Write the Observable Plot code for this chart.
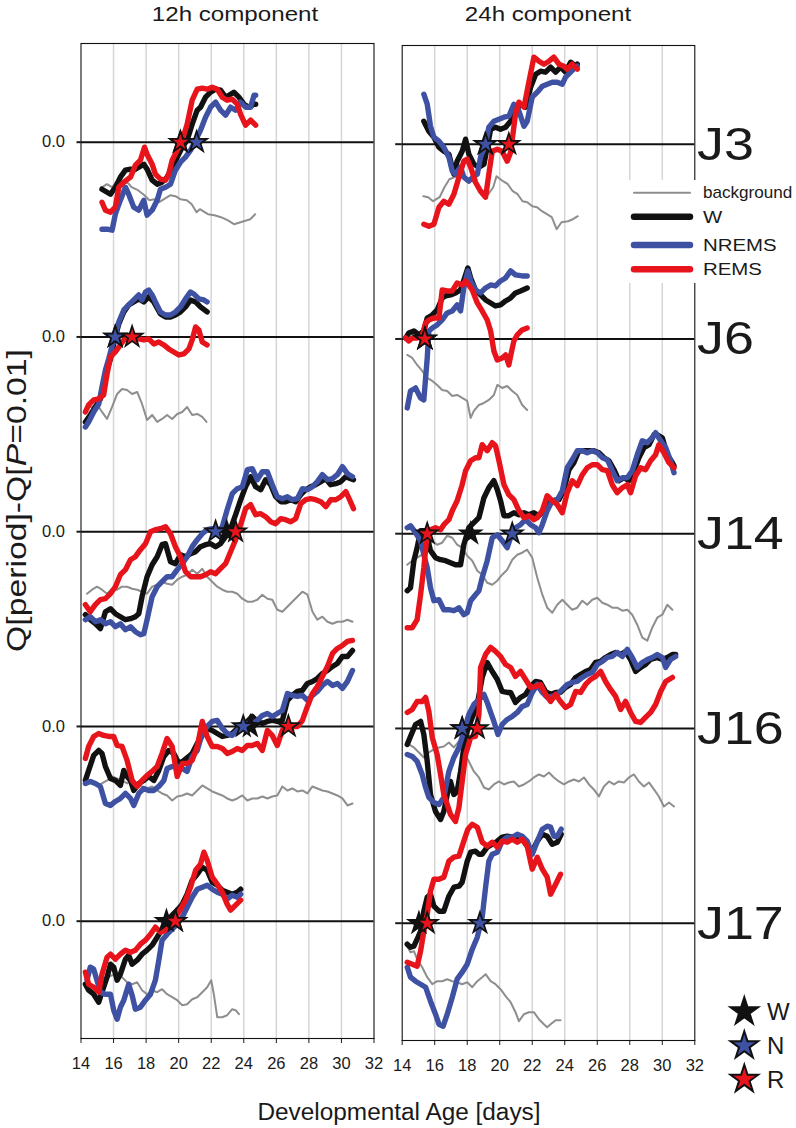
<!DOCTYPE html>
<html><head><meta charset="utf-8">
<script src="https://cdn.jsdelivr.net/npm/d3@7"></script>
<script src="https://cdn.jsdelivr.net/npm/@observablehq/plot@0.6"></script>
<style>
html,body{margin:0;padding:0;background:#fff;}
#wrap{position:relative;width:796px;height:1128px;overflow:hidden;font-family:"Liberation Sans",Arial,sans-serif;background:#fff;}
#wrap > svg{position:absolute;}
#wrap svg [aria-label$="tick label"], #wrap svg [aria-label$="tick label"] text{font-size:16.5px !important;}
</style></head><body><div id="wrap"></div>
<script>
// ---------- categories / ticks ----------
const xTicks = [14,16,18,20,22,24,26,28,30,32];
const rowNames = ["J3","J6","J14","J16","J17"];
const seriesNames = ["background","W","NREMS","REMS"];
const seriesColors = ["#8e8e8e","#111111","#3f51a3","#e8141c"];
const starLegend = ["W","N","R"];
const componentTitles = ["12h component","24h component"];

// ---------- 12h component (day, Q-difference) ----------
const d12_J3_bg = [15.3,15.6,15.9,16.2,16.6,16.9,17.1,17.5,17.9,18.2,18.5,18.8,19.1,19.5,19.8,20.1,20.5,20.8,21.1,21.3,21.8,22.2,22.6,23.0,23.4,23.8,24.2,24.4,24.7];
const q12_J3_bg = [-45,-42,-45,-40,-40,-41,-45,-48,-53,-58,-57,-60,-57,-53,-54,-57,-58,-62,-70,-67,-72,-73,-75,-78,-82,-80,-78,-77,-72];
const d12_J3_W = [15.29,15.81,16.11,16.42,16.73,17.04,17.24,17.55,17.86,18.06,18.37,18.68,18.98,19.29,19.6,19.91,20.22,20.52,20.83,21.14,21.34,21.65,21.96,22.27,22.57,22.88,23.19,23.39,23.7,24.01,24.32,24.63,24.73];
const q12_J3_W = [-47,-52,-45,-35,-28,-27,-28,-25,-22,-27,-38,-42,-40,-35,-25,-15,-5,2,18,32,35,45,50,53,52,45,48,50,45,38,35,38,38];
const d12_J3_N = [15.29,15.6,15.91,16.11,16.42,16.73,16.93,17.24,17.55,17.86,18.06,18.37,18.68,18.88,19.19,19.5,19.8,20.11,20.42,20.73,21.04,21.34,21.65,21.96,22.27,22.57,22.88,23.19,23.5,23.8,24.11,24.42,24.63,24.73];
const q12_J3_N = [-87,-87,-88,-72,-58,-45,-52,-65,-68,-58,-73,-68,-58,-47,-45,-42,-28,-20,-15,-8,2,12,25,35,40,32,27,35,32,40,35,35,47,47];
const d12_J3_R = [15.29,15.5,15.81,16.11,16.32,16.63,17.04,17.34,17.65,17.9,18.06,18.37,18.57,18.88,19.19,19.39,19.6,19.91,20.22,20.52,20.83,21.14,21.45,21.75,22.06,22.37,22.68,22.98,23.29,23.6,23.8,24.11,24.42,24.73];
const q12_J3_R = [-60,-68,-70,-65,-45,-40,-35,-23,-18,-5,-12,-22,-32,-37,-38,-32,-18,-8,2,18,42,53,54,53,55,53,45,42,43,38,28,17,22,17];

const d12_J6_bg = [14.37,14.68,14.98,15.29,15.6,15.91,16.22,16.52,16.83,17.14,17.45,17.75,18.06,18.37,18.68,18.98,19.29,19.6,19.91,20.22,20.52,20.83,21.14,21.45,21.71];
const q12_J6_bg = [-70,-70,-67,-75,-82,-70,-57,-52,-53,-57,-55,-67,-83,-78,-85,-82,-78,-82,-77,-75,-70,-78,-77,-80,-85];
const d12_J6_W = [14.27,14.57,14.88,15.19,15.39,15.6,15.81,16.01,16.32,16.63,16.93,17.24,17.55,17.86,18.16,18.47,18.88,19.19,19.5,19.8,20.11,20.42,20.73,21.04,21.34,21.75];
const q12_J6_W = [-85,-78,-70,-62,-50,-33,-22,-7,13,25,32,35,38,35,40,35,23,20,20,22,25,30,37,35,30,25];
const d12_J6_N = [14.27,14.47,14.78,15.09,15.29,15.5,15.7,16.01,16.32,16.63,16.93,17.24,17.55,17.75,17.96,18.16,18.37,18.57,18.88,19.19,19.5,19.8,20.11,20.42,20.73,20.93,21.24,21.55,21.75];
const q12_J6_N = [-90,-85,-75,-67,-50,-33,-22,-3,15,27,32,37,42,37,45,47,42,35,25,22,22,25,30,38,45,43,38,37,35];
const d12_J6_R = [14.27,14.47,14.78,15.09,15.39,15.6,15.81,16.11,16.42,16.63,16.93,17.24,17.55,17.86,18.16,18.47,18.78,19.09,19.39,19.7,20.01,20.32,20.63,20.83,21.04,21.24,21.45,21.75];
const q12_J6_R = [-75,-68,-63,-62,-58,-37,-20,-15,-8,-3,0,0,-2,-3,-2,-7,-5,-8,-12,-15,-18,-17,-12,-3,10,7,-5,-8];

const d12_J14_bg = [14.37,14.68,14.98,15.29,15.6,15.91,16.22,16.52,16.83,17.14,17.45,17.75,18.06,18.37,18.68,18.98,19.29,19.6,19.91,20.22,20.52,20.83,21.14,21.45,21.75,22.06,22.37,22.68,22.98,23.29,23.6,23.91,24.22,24.52,24.83,25.14,25.45,25.75,26.06,26.37,26.68,26.98,27.29,27.6,27.91,28.22,28.52,28.83,29.14,29.45,29.75,30.06,30.37,30.68];
const q12_J14_bg = [-62,-58,-55,-58,-62,-57,-58,-55,-55,-57,-58,-60,-62,-55,-53,-50,-52,-53,-48,-45,-43,-38,-42,-37,-45,-50,-55,-58,-60,-60,-62,-67,-70,-70,-68,-63,-67,-68,-78,-80,-75,-70,-65,-60,-63,-80,-88,-85,-90,-92,-90,-90,-88,-90];
const d12_J14_W = [14.27,14.57,14.88,15.19,15.5,15.81,16.11,16.42,16.73,17.04,17.34,17.55,17.75,18.06,18.37,18.68,18.98,19.19,19.5,19.8,20.11,20.42,20.73,21.04,21.34,21.65,21.96,22.27,22.57,22.88,23.19,23.5,23.81,24.11,24.42,24.73,25.04,25.34,25.65,25.96,26.27,26.57,26.88,27.19,27.5,27.81,28.11,28.42,28.73,29.04,29.34,29.65,29.96,30.27,30.57,30.74];
const q12_J14_W = [-83,-88,-92,-97,-80,-77,-82,-85,-88,-87,-85,-82,-65,-45,-33,-25,-13,-12,-30,-32,-23,-25,-22,-20,-15,-13,-12,-15,-12,-5,3,17,32,45,55,45,42,52,47,35,30,30,32,30,37,42,45,47,50,53,47,48,50,55,53,52];
const d12_J14_N = [14.27,14.57,14.88,15.19,15.5,15.81,16.11,16.42,16.73,17.04,17.34,17.65,17.86,18.06,18.37,18.68,18.98,19.29,19.6,19.91,20.22,20.52,20.83,21.14,21.45,21.75,22.06,22.37,22.68,22.98,23.29,23.6,23.91,24.22,24.52,24.83,25.14,25.45,25.75,26.06,26.37,26.68,26.98,27.29,27.6,27.91,28.22,28.52,28.83,29.14,29.45,29.75,30.06,30.37,30.68];
const q12_J14_N = [-88,-85,-90,-88,-92,-90,-95,-92,-98,-95,-100,-103,-102,-88,-65,-55,-50,-45,-45,-38,-32,-25,-15,-8,-2,2,3,0,5,22,38,43,45,62,63,52,60,60,47,35,33,35,32,33,43,42,45,50,57,52,53,57,65,58,55];
const d12_J14_R = [14.27,14.57,14.88,15.19,15.5,15.81,16.11,16.42,16.73,17.04,17.34,17.65,17.96,18.27,18.57,18.88,19.19,19.5,19.8,20.11,20.42,20.73,21.04,21.34,21.65,21.96,22.27,22.57,22.88,23.19,23.5,23.81,24.11,24.42,24.73,25.04,25.34,25.65,25.96,26.27,26.57,26.88,27.19,27.5,27.81,28.11,28.42,28.73,29.04,29.34,29.65,29.96,30.27,30.47,30.74];
const q12_J14_R = [-73,-80,-73,-68,-67,-62,-55,-43,-38,-28,-25,-18,-12,0,2,3,5,-2,-15,-25,-40,-45,-45,-45,-43,-40,-42,-37,-32,-20,-8,7,23,27,17,18,15,10,8,13,12,10,13,28,32,33,32,30,25,32,32,35,40,33,23];

const d12_J16_bg = [14.37,14.68,14.98,15.29,15.6,15.91,16.22,16.52,16.83,17.14,17.45,17.75,18.06,18.37,18.68,18.98,19.29,19.6,19.91,20.22,20.52,20.83,21.14,21.45,21.75,22.06,22.37,22.68,22.98,23.29,23.6,23.91,24.22,24.52,24.83,25.14,25.45,25.75,26.06,26.37,26.68,26.98,27.29,27.6,27.91,28.22,28.52,28.83,29.14,29.45,29.75,30.06,30.37,30.68];
const q12_J16_bg = [-57,-54,-59,-57,-54,-50,-52,-54,-57,-52,-59,-60,-62,-60,-64,-67,-69,-74,-70,-69,-67,-69,-64,-59,-62,-65,-67,-69,-72,-74,-72,-69,-74,-72,-72,-70,-72,-70,-69,-60,-64,-62,-65,-64,-67,-60,-62,-64,-65,-67,-69,-72,-79,-77];
const d12_J16_W = [14.27,14.47,14.78,15.09,15.29,15.5,15.81,16.11,16.42,16.63,16.83,17.04,17.24,17.55,17.86,18.16,18.47,18.78,19.09,19.39,19.7,20.01,20.32,20.63,20.83,21.14,21.45,21.75,22.06,22.37,22.68,22.98,23.29,23.6,23.91,24.22,24.52,24.83,25.14,25.45,25.75,26.06,26.37,26.68,26.98,27.29,27.6,27.91,28.22,28.52,28.83,29.14,29.45,29.75,30.06,30.37,30.68];
const q12_J16_W = [-54,-44,-29,-24,-27,-40,-52,-54,-59,-44,-50,-54,-64,-57,-54,-50,-54,-44,-30,-24,-27,-37,-34,-30,-27,-17,-9,-2,-4,-7,-10,-9,-7,-2,0,5,10,5,3,5,6,5,6,26,31,35,36,43,45,48,53,56,60,63,70,70,76];
const d12_J16_N = [14.27,14.57,14.88,15.19,15.5,15.81,16.11,16.42,16.73,17.04,17.24,17.55,17.86,18.16,18.47,18.78,19.09,19.29,19.6,19.91,20.22,20.52,20.83,21.14,21.45,21.75,22.06,22.37,22.68,22.98,23.29,23.6,23.91,24.22,24.52,24.83,25.14,25.45,25.75,26.06,26.37,26.68,26.98,27.29,27.6,27.91,28.22,28.52,28.83,29.14,29.45,29.75,30.06,30.37,30.68];
const q12_J16_N = [-57,-55,-57,-60,-77,-79,-75,-72,-67,-72,-79,-67,-62,-64,-64,-60,-54,-42,-40,-40,-42,-45,-30,-24,-7,0,5,6,-2,-7,-9,-4,0,3,3,6,11,13,10,13,16,33,31,30,31,26,31,35,41,45,41,43,38,45,56];
const d12_J16_R = [14.27,14.47,14.78,15.09,15.39,15.7,16.01,16.22,16.52,16.83,17.14,17.45,17.75,18.06,18.37,18.68,18.98,19.29,19.6,19.91,20.22,20.52,20.83,21.14,21.45,21.75,22.06,22.37,22.68,22.98,23.29,23.6,23.91,24.22,24.52,24.83,25.14,25.45,25.75,26.06,26.37,26.68,26.98,27.29,27.6,27.91,28.22,28.52,28.83,29.14,29.45,29.75,30.06,30.37,30.68];
const q12_J16_R = [-32,-20,-10,-7,-9,-10,-10,-19,-20,-34,-54,-60,-54,-49,-45,-40,-27,-12,-20,-50,-37,-37,-34,-20,5,-10,-20,-20,-22,-27,-25,-22,-24,-19,-19,-17,-24,-4,-9,-19,-4,3,0,0,6,20,33,40,50,60,73,78,81,85,86];

const d12_J17_bg = [14.37,14.68,14.98,15.29,15.6,15.91,16.22,16.52,16.83,17.14,17.45,17.75,18.06,18.37,18.68,18.98,19.29,19.6,19.91,20.22,20.52,20.83,21.14,21.45,21.75,22.0,22.16,22.37,22.68,22.98,23.29,23.5,23.7];
const q12_J17_bg = [-59,-73,-66,-58,-56,-54,-54,-56,-61,-63,-61,-69,-73,-69,-71,-68,-73,-76,-79,-84,-83,-78,-76,-71,-66,-59,-73,-96,-96,-94,-88,-89,-93];
const d12_J17_W = [14.27,14.47,14.78,15.09,15.29,15.6,15.81,16.01,16.22,16.42,16.73,16.93,17.14,17.45,17.75,18.06,18.37,18.68,18.98,19.29,19.6,19.91,20.22,20.52,20.83,21.14,21.45,21.75,22.06,22.37,22.68,22.98,23.29,23.6,23.81];
const q12_J17_W = [-63,-69,-73,-81,-71,-56,-43,-46,-59,-53,-38,-34,-43,-39,-33,-29,-24,-16,-8,-1,6,11,17,27,41,47,54,51,39,36,31,29,27,29,32];
const d12_J17_N = [14.37,14.57,14.78,14.98,15.19,15.5,15.81,16.01,16.22,16.42,16.63,16.93,17.14,17.34,17.65,17.96,18.27,18.57,18.78,18.98,19.29,19.6,19.91,20.22,20.52,20.83,21.14,21.45,21.75,22.06,22.37,22.68,22.98,23.29,23.6,23.81];
const q12_J17_N = [-59,-46,-48,-59,-71,-73,-73,-89,-98,-86,-79,-63,-74,-88,-86,-79,-73,-59,-39,-19,-13,-8,-3,4,14,24,32,34,36,32,29,27,22,26,24,27];
const d12_J17_R = [14.27,14.47,14.78,15.09,15.29,15.6,15.81,16.11,16.42,16.73,17.04,17.34,17.65,17.96,18.27,18.57,18.88,19.19,19.5,19.8,20.11,20.42,20.73,21.04,21.34,21.55,21.75,22.06,22.37,22.68,22.98,23.19,23.5,23.81];
const q12_J17_R = [-51,-63,-66,-71,-53,-36,-33,-38,-33,-29,-31,-29,-23,-19,-13,-6,-11,-9,-1,4,12,21,34,51,57,69,61,44,37,29,17,11,16,21];

// ---------- 24h component (day, Q-difference) ----------
const d24_J3_bg = [15.3,15.6,15.9,16.3,16.6,16.9,17.2,17.5,17.8,18.1,18.4,18.7,19.0,19.3,19.6,19.8,20.2,20.5,20.8,21.1,21.4,21.7,22.0,22.3,22.6,22.9,23.2,23.5,23.8,24.2,24.5,24.8];
const q24_J3_bg = [-52,-53,-57,-53,-43,-35,-33,-32,-33,-35,-38,-43,-47,-50,-43,-32,-37,-40,-47,-50,-57,-58,-62,-63,-67,-70,-73,-85,-78,-77,-75,-72];
const d24_J3_W = [15.33,15.64,15.95,16.26,16.56,16.87,17.18,17.38,17.69,17.9,18.1,18.41,18.72,19.03,19.23,19.44,19.74,20.05,20.36,20.67,20.97,21.28,21.59,21.9,22.21,22.51,22.82,23.13,23.44,23.74,24.05,24.36,24.67,24.77];
const q24_J3_W = [23,13,7,-3,-7,-10,-30,-17,-7,5,-10,-20,-23,-20,-3,15,17,15,17,23,33,40,37,57,70,73,72,77,72,77,72,82,78,80];
const d24_J3_N = [15.33,15.54,15.74,15.95,16.26,16.56,16.87,17.08,17.28,17.59,17.79,18.1,18.41,18.62,18.82,19.13,19.33,19.64,19.95,20.26,20.56,20.87,21.18,21.49,21.69,22.0,22.31,22.62,22.92,23.23,23.54,23.85,24.05,24.36,24.67,24.77];
const q24_J3_N = [50,40,18,7,3,-3,-13,-27,-30,-23,-33,-37,-32,-30,-13,0,17,23,25,27,28,40,33,18,23,47,52,58,60,62,62,60,67,72,77,78];
const d24_J3_R = [15.33,15.64,15.95,16.26,16.56,16.87,17.18,17.49,17.79,18.0,18.21,18.51,18.82,19.13,19.33,19.54,19.85,20.15,20.46,20.67,20.97,21.18,21.49,21.79,22.1,22.41,22.72,23.03,23.33,23.64,23.95,24.15,24.46,24.77];
const q24_J3_R = [-80,-82,-80,-63,-57,-60,-50,-33,-17,-15,-23,-38,-47,-53,-30,-7,-5,-7,-17,-8,30,42,37,62,87,83,80,83,87,80,78,75,80,75];

const d24_J6_bg = [14.31,14.62,14.92,15.23,15.54,15.85,16.15,16.46,16.77,17.08,17.38,17.69,18.0,18.21,18.41,18.72,19.03,19.33,19.64,19.85,20.15,20.46,20.77,21.08,21.38,21.69];
const q24_J6_bg = [-16,-19,-26,-32,-39,-42,-46,-51,-52,-57,-56,-59,-62,-79,-72,-66,-64,-61,-56,-46,-49,-47,-52,-56,-66,-71];
const d24_J6_W = [14.21,14.41,14.72,15.03,15.33,15.54,15.85,16.15,16.46,16.67,16.97,17.28,17.59,17.84,18.04,18.21,18.51,18.82,19.13,19.44,19.74,20.05,20.36,20.67,20.97,21.28,21.69];
const q24_J6_W = [1,6,8,4,8,21,24,29,41,43,44,46,49,61,71,61,49,44,39,36,33,34,38,41,46,48,51];
const d24_J6_N = [14.31,14.51,14.82,15.13,15.33,15.54,15.64,15.85,16.15,16.46,16.77,17.08,17.38,17.59,17.79,18.04,18.21,18.51,18.82,19.13,19.44,19.74,20.05,20.36,20.67,20.97,21.38,21.69];
const q24_J6_N = [-69,-52,-49,-59,-61,-19,8,11,14,19,26,28,34,28,51,68,58,49,46,51,54,53,58,61,68,64,63,63];
const d24_J6_R = [14.21,14.41,14.62,14.92,15.23,15.44,15.64,15.95,16.26,16.46,16.77,17.08,17.38,17.69,17.9,18.1,18.31,18.62,18.92,19.23,19.44,19.64,19.85,20.15,20.36,20.56,20.67,20.87,21.08,21.38,21.69];
const q24_J6_R = [1,-2,1,1,3,16,19,21,21,49,48,48,56,54,58,54,49,36,28,19,8,-12,-21,-19,-16,-26,-17,-2,4,9,11];

const d24_J14_bg = [14.31,14.62,14.92,15.23,15.54,15.85,16.15,16.46,16.77,17.08,17.38,17.69,18.0,18.31,18.62,18.92,19.23,19.54,19.85,20.15,20.46,20.77,21.08,21.38,21.69,22.0,22.31,22.62,22.92,23.23,23.54,23.85,24.15,24.46,24.77,25.08,25.38,25.69,26.0,26.31,26.62,26.92,27.23,27.54,27.85,28.15,28.46,28.77,29.08,29.38,29.69,30.0,30.31,30.62];
const q24_J14_bg = [-31,-27,-24,-21,-14,-7,-11,-9,-2,-4,-11,-14,-22,-27,-37,-41,-49,-51,-47,-41,-36,-26,-21,-19,-16,-24,-44,-61,-74,-79,-71,-66,-71,-76,-74,-67,-71,-66,-64,-69,-71,-74,-74,-77,-76,-81,-91,-104,-107,-94,-84,-81,-71,-76];
const d24_J14_W = [14.31,14.51,14.72,14.92,15.13,15.44,15.74,16.05,16.36,16.67,16.97,17.28,17.59,17.79,18.1,18.41,18.72,19.03,19.33,19.64,19.85,20.05,20.26,20.56,20.87,21.18,21.49,21.79,22.1,22.41,22.72,23.03,23.33,23.64,23.95,24.26,24.56,24.87,25.18,25.49,25.79,26.1,26.41,26.72,27.03,27.33,27.64,27.95,28.26,28.56,28.87,29.18,29.49,29.69,30.0,30.31,30.62,30.72];
const q24_J14_W = [-57,-54,-27,-14,3,3,-17,-24,-26,-27,-29,-31,-31,-11,6,11,16,36,46,53,44,33,18,18,21,19,21,19,21,18,23,31,33,34,44,64,71,83,83,83,83,81,76,73,64,53,56,53,63,76,86,89,99,99,96,79,71,68];
const d24_J14_N = [14.31,14.51,14.82,15.13,15.33,15.54,15.74,15.95,16.26,16.56,16.87,17.18,17.49,17.79,18.0,18.21,18.51,18.72,18.92,19.23,19.54,19.85,20.15,20.46,20.67,20.97,21.28,21.59,21.9,22.21,22.41,22.62,22.92,23.23,23.54,23.85,24.15,24.46,24.77,25.08,25.38,25.69,26.0,26.31,26.62,26.92,27.23,27.54,27.85,28.15,28.46,28.77,29.08,29.38,29.59,29.9,30.21,30.51,30.72];
const q24_J14_N = [6,8,1,-7,-21,-34,-54,-67,-66,-76,-76,-77,-74,-81,-79,-67,-61,-57,-44,-27,-4,-1,-7,-14,-4,6,9,14,9,6,1,9,23,33,34,43,66,74,83,83,81,83,81,76,74,63,53,56,56,63,79,93,91,96,101,93,86,73,61];
const d24_J14_R = [14.31,14.62,14.92,15.13,15.33,15.54,15.74,16.05,16.36,16.56,16.87,17.08,17.38,17.69,17.9,18.21,18.51,18.72,18.92,19.23,19.54,19.74,19.95,20.26,20.56,20.87,21.18,21.49,21.79,22.1,22.31,22.62,22.92,23.23,23.54,23.85,24.15,24.46,24.77,25.08,25.38,25.69,26.0,26.31,26.62,26.92,27.23,27.54,27.85,28.05,28.36,28.67,28.97,29.28,29.59,29.79,30.1,30.41,30.72];
const q24_J14_R = [-94,-94,-86,-61,-34,1,4,6,4,9,14,23,33,49,63,73,76,76,89,83,91,88,73,49,39,34,23,16,18,14,16,23,38,33,29,21,41,53,48,59,66,69,69,64,63,49,41,46,49,41,58,66,64,73,79,89,81,71,66];

const d24_J16_bg = [14.41,14.72,15.03,15.33,15.64,15.95,16.26,16.56,16.87,17.18,17.49,17.79,18.1,18.41,18.72,19.03,19.33,19.64,19.95,20.26,20.56,20.87,21.18,21.49,21.79,22.1,22.41,22.72,23.03,23.33,23.64,23.95,24.26,24.56,24.87,25.18,25.49,25.79,26.1,26.41,26.72,27.03,27.33,27.64,27.95,28.26,28.56,28.87,29.18,29.49,29.79,30.1,30.41,30.72];
const q24_J16_bg = [-16,-19,-24,-29,-24,-21,-19,-18,-14,-19,-13,-23,-33,-43,-49,-59,-61,-56,-53,-56,-54,-53,-58,-56,-53,-49,-46,-48,-44,-49,-53,-56,-53,-51,-53,-49,-56,-61,-68,-58,-53,-56,-53,-54,-49,-46,-53,-58,-54,-61,-68,-78,-74,-78];
const d24_J16_W = [14.31,14.51,14.82,15.13,15.33,15.54,15.74,16.05,16.36,16.56,16.77,16.97,17.18,17.38,17.59,17.79,18.0,18.31,18.62,18.92,19.23,19.54,19.85,20.15,20.46,20.67,20.97,21.28,21.59,21.9,22.21,22.51,22.82,23.13,23.44,23.74,24.05,24.36,24.67,24.97,25.28,25.59,25.9,26.21,26.51,26.82,27.13,27.44,27.74,28.05,28.36,28.67,28.97,29.28,29.69,30.0,30.31,30.62,30.82];
const q24_J16_W = [-16,-8,4,7,-6,-33,-66,-83,-91,-83,-66,-53,-66,-63,-43,-19,-3,11,24,51,66,57,49,37,36,36,26,31,34,42,47,46,37,34,36,36,41,44,51,54,57,59,66,67,71,74,76,74,77,69,57,61,64,69,71,69,71,74,74];
const d24_J16_N = [14.31,14.62,14.92,15.23,15.44,15.64,15.95,16.26,16.56,16.87,17.18,17.49,17.79,18.1,18.41,18.72,19.03,19.23,19.44,19.64,19.89,20.15,20.46,20.77,21.08,21.38,21.69,22.0,22.31,22.62,22.92,23.23,23.54,23.85,24.15,24.46,24.77,25.08,25.38,25.69,26.0,26.31,26.62,26.92,27.23,27.54,27.85,28.15,28.46,28.77,29.08,29.38,29.69,30.0,30.21,30.51,30.82];
const q24_J16_N = [-26,-28,-33,-46,-59,-69,-74,-76,-69,-43,-29,-19,-3,14,24,29,34,26,16,7,-6,4,9,12,16,22,24,36,44,36,31,32,34,39,44,46,47,51,54,56,64,67,71,72,76,72,79,71,61,66,69,71,74,71,61,69,72];
const d24_J16_R = [14.31,14.62,14.92,15.23,15.44,15.64,15.85,16.15,16.36,16.56,16.77,16.97,17.28,17.49,17.69,17.9,18.21,18.51,18.72,18.82,19.13,19.44,19.74,20.05,20.36,20.67,20.97,21.28,21.59,21.9,22.21,22.51,22.82,23.13,23.44,23.74,24.05,24.36,24.67,24.97,25.28,25.59,25.9,26.21,26.51,26.82,27.13,27.44,27.74,28.05,28.36,28.67,28.97,29.28,29.59,29.9,30.21,30.62];
const q24_J16_R = [16,19,27,27,31,17,-9,-26,-46,-66,-76,-86,-93,-79,-53,-26,-9,-8,14,61,74,81,77,72,64,61,52,57,49,41,42,44,34,27,34,27,21,24,37,36,44,49,52,57,47,39,32,19,27,16,7,6,11,16,24,37,47,51];

const d24_J17_bg = [14.31,14.51,14.72,14.92,15.23,15.54,15.85,16.15,16.46,16.77,17.08,17.38,17.69,18.0,18.31,18.62,18.92,19.13,19.44,19.74,20.05,20.36,20.67,20.97,21.18,21.49,21.79,22.1,22.41,22.72,22.92,23.13,23.44,23.74];
const q24_J17_bg = [-23,-29,-28,-36,-44,-54,-61,-58,-58,-56,-58,-59,-61,-59,-64,-58,-54,-51,-58,-61,-66,-73,-79,-89,-98,-91,-89,-89,-96,-101,-104,-101,-97,-97];
const d24_J17_W = [14.31,14.51,14.72,14.92,15.13,15.33,15.54,15.74,15.95,16.26,16.56,16.87,17.18,17.49,17.69,18.0,18.21,18.51,18.72,18.92,19.23,19.54,19.85,20.15,20.46,20.77,21.08,21.38,21.69,22.0,22.31,22.62,22.92,23.23,23.54,23.78];
const q24_J17_W = [-21,-24,-23,-16,-8,12,26,29,17,12,12,27,36,37,41,62,71,72,69,69,76,79,82,86,87,86,87,84,77,72,82,89,87,79,81,89];
const d24_J17_N = [14.31,14.51,14.82,15.13,15.44,15.74,16.05,16.26,16.52,16.77,17.08,17.38,17.69,18.0,18.31,18.62,18.92,19.13,19.33,19.54,19.85,20.15,20.46,20.77,21.08,21.38,21.69,22.0,22.31,22.62,22.92,23.13,23.33,23.54,23.78];
const q24_J17_N = [-44,-54,-58,-61,-64,-78,-91,-101,-103,-91,-74,-56,-49,-41,-26,-14,6,36,62,69,71,82,86,86,89,87,82,69,82,94,97,96,87,87,94];
const d24_J17_R = [14.31,14.62,14.92,15.13,15.33,15.54,15.74,15.95,16.26,16.56,16.87,17.18,17.49,17.79,18.04,18.31,18.62,18.92,19.23,19.54,19.85,20.15,20.46,20.77,21.08,21.38,21.69,22.0,22.31,22.62,22.92,23.13,23.44,23.74];
const q24_J17_R = [-39,-41,-43,-28,-8,9,32,44,44,46,62,66,67,82,94,99,96,81,77,81,76,82,81,84,81,84,77,54,66,54,46,29,39,49];

// ---------- threshold-crossing stars (day), per row J3..J17 ----------
const star12_W = [20.11,16.1,22.95,24.4,19.25];
const star12_N = [21.1,16.1,22.27,23.97,19.8];
const star12_R = [20.11,17.14,23.5,26.74,19.8];
const star24_W = [19.1,15.4,18.21,17.69,15.03];
const star24_N = [19.13,15.4,20.77,17.69,18.78];
const star24_R = [20.56,15.39,15.54,18.62,15.54];

// ---------- tables built from the arrays ----------
const P12 = {
  J3:{bg:[d12_J3_bg,q12_J3_bg],W:[d12_J3_W,q12_J3_W],N:[d12_J3_N,q12_J3_N],R:[d12_J3_R,q12_J3_R]},
  J6:{bg:[d12_J6_bg,q12_J6_bg],W:[d12_J6_W,q12_J6_W],N:[d12_J6_N,q12_J6_N],R:[d12_J6_R,q12_J6_R]},
  J14:{bg:[d12_J14_bg,q12_J14_bg],W:[d12_J14_W,q12_J14_W],N:[d12_J14_N,q12_J14_N],R:[d12_J14_R,q12_J14_R]},
  J16:{bg:[d12_J16_bg,q12_J16_bg],W:[d12_J16_W,q12_J16_W],N:[d12_J16_N,q12_J16_N],R:[d12_J16_R,q12_J16_R]},
  J17:{bg:[d12_J17_bg,q12_J17_bg],W:[d12_J17_W,q12_J17_W],N:[d12_J17_N,q12_J17_N],R:[d12_J17_R,q12_J17_R]}
};
const P24 = {
  J3:{bg:[d24_J3_bg,q24_J3_bg],W:[d24_J3_W,q24_J3_W],N:[d24_J3_N,q24_J3_N],R:[d24_J3_R,q24_J3_R]},
  J6:{bg:[d24_J6_bg,q24_J6_bg],W:[d24_J6_W,q24_J6_W],N:[d24_J6_N,q24_J6_N],R:[d24_J6_R,q24_J6_R]},
  J14:{bg:[d24_J14_bg,q24_J14_bg],W:[d24_J14_W,q24_J14_W],N:[d24_J14_N,q24_J14_N],R:[d24_J14_R,q24_J14_R]},
  J16:{bg:[d24_J16_bg,q24_J16_bg],W:[d24_J16_W,q24_J16_W],N:[d24_J16_N,q24_J16_N],R:[d24_J16_R,q24_J16_R]},
  J17:{bg:[d24_J17_bg,q24_J17_bg],W:[d24_J17_W,q24_J17_W],N:[d24_J17_N,q24_J17_N],R:[d24_J17_R,q24_J17_R]}
};
const keyToSeries = [["bg","background"],["W","W"],["N","NREMS"],["R","REMS"]];

// ---------- layout ----------
const ROW_STEP = 194.75;
const rowOffset = i => -i * ROW_STEP;
const Y_DOMAIN = [-4 * ROW_STEP - 117.3, 98.7];
const FONT = "'Liberation Sans', Arial, Helvetica, sans-serif";

function table(P) {
  const out = [];
  rowNames.forEach((rn, i) => {
    keyToSeries.forEach(([k, name]) => {
      const [ds, qs] = P[rn][k];
      ds.forEach((d, j) => out.push({day: d, q: qs[j], y: qs[j] + rowOffset(i), series: name, row: rn}));
    });
  });
  return out;
}
function starTable(W, N, R) {
  const out = [];
  rowNames.forEach((rn, i) => {
    out.push({day: W[i], y: rowOffset(i), series: "W", row: rn});
    out.push({day: N[i], y: rowOffset(i), series: "NREMS", row: rn});
    out.push({day: R[i], y: rowOffset(i), series: "REMS", row: rn});
  });
  return out;
}

function panel(P, stars, opts) {
  const data = table(P);
  const zeros = rowNames.map((_, i) => rowOffset(i));
  return Plot.plot({
    width: opts.width, height: 1080,
    marginTop: 43, marginBottom: 42, marginLeft: opts.ml, marginRight: opts.mr,
    x: {domain: [14, 32]},
    y: {domain: Y_DOMAIN},
    color: {domain: seriesNames, range: seriesColors},
    style: {fontFamily: FONT, fontSize: "16.5px", color: "#1a1a1a", background: "transparent", overflow: "visible"},
    marks: [
      Plot.ruleX(xTicks.slice(1, -1), {stroke: "#d6d6d6", strokeWidth: 1.5}),
      Plot.ruleY(zeros, {stroke: "#111", strokeWidth: 2}),
      Plot.axisY({ticks: zeros, tickSize: opts.tick, tickPadding: 12, fontSize: 16.5, tickFormat: opts.labels ? () => "0.0" : () => "", label: null, strokeWidth: 2}),
      Plot.axisX({ticks: xTicks, tickSize: 5, tickPadding: 14, fontSize: 16.5, label: null}),
      Plot.line(data.filter(d => d.series === "background"), {x: "day", y: "y", z: "row", stroke: "series", strokeWidth: 2}),
      Plot.line(data.filter(d => d.series !== "background"), {x: "day", y: "y", z: d => d.row + "-" + d.series, stroke: "series", strokeWidth: 5.4}),
      Plot.dot(stars, {x: "day", y: "y", symbol: "star", r: 6.6, fill: "series", stroke: "#111", strokeWidth: 1.7}),
      Plot.frame({stroke: "#111", strokeWidth: 1.1})
    ]
  });
}

const wrap = document.getElementById("wrap");
const left = panel(P12, starTable(star12_W, star12_N, star12_R), {width: 380, ml: 80.5, mr: 6.5, tick: 4, labels: true});
left.style.left = "0px"; left.style.top = "0px";
wrap.appendChild(left);
const right = panel(P24, starTable(star24_W, star24_N, star24_R), {width: 310, ml: 11.7, mr: 5.7, tick: 6.5, labels: false});
right.style.left = "390px"; right.style.top = "1.5px";
wrap.appendChild(right);

// ---------- overlay: titles, row labels, legends, axis titles ----------
const ov = d3.create("svg").attr("width", 796).attr("height", 1128)
  .style("left", "0px").style("top", "0px").style("font-family", FONT);
const txt = (s, x, y, size, sx, anchor) => ov.append("text")
  .attr("transform", `translate(${x},${y}) scale(${sx},1)`)
  .attr("text-anchor", anchor).attr("font-size", size).attr("fill", "#1a1a1a").text(s);

txt(componentTitles[0], 235, 20.5, 21, 1.15, "middle");
txt(componentTitles[1], 548, 20.5, 21, 1.15, "middle");
rowNames.forEach((rn, i) => txt(rn, 697, 143.2 + i * ROW_STEP + 16.5, 46, 1.17, "start"));

// series legend (white box over the right panel)
ov.append("rect").attr("x", 628).attr("y", 180).attr("width", 168).attr("height", 103).attr("fill", "#fff");
const legY = [192.7, 216.7, 245, 269.3];
seriesNames.forEach((s, i) => {
  ov.append("line").attr("x1", 634).attr("x2", 690).attr("y1", legY[i]).attr("y2", legY[i])
    .attr("stroke", seriesColors[i]).attr("stroke-width", i === 0 ? 2 : 6.5).attr("stroke-linecap", "round");
  if (i === 0) txt(s, 703, legY[i] + 5.5, 16, 1.07, "start");
  else txt(s, 703, legY[i] + 6.1, 17, 1.2, "start");
});

// star legend
const starPath = d3.symbol(d3.symbolStar, 236)();
const starY = [1011.7, 1045.7, 1079.3];
starLegend.forEach((s, i) => {
  ov.append("path").attr("d", starPath).attr("transform", `translate(744.3,${starY[i]})`)
    .attr("fill", seriesColors[i + 1]).attr("stroke", "#111").attr("stroke-width", 2);
  txt(s, 767, starY[i] + 8.6, 24, 1.0, "start");
});

// axis titles
const yl = ov.append("text").attr("transform", "translate(26,500.5) rotate(-90) scale(1.25,1)")
  .attr("text-anchor", "middle").attr("font-size", 27).attr("fill", "#1a1a1a");
yl.append("tspan").text("Q[period]-Q[");
yl.append("tspan").attr("font-style", "italic").text("P");
yl.append("tspan").text("=0.01]");
txt("Developmental Age [days]", 399, 1120, 23, 1.06, "middle");

wrap.appendChild(ov.node());
</script>
</body></html>
